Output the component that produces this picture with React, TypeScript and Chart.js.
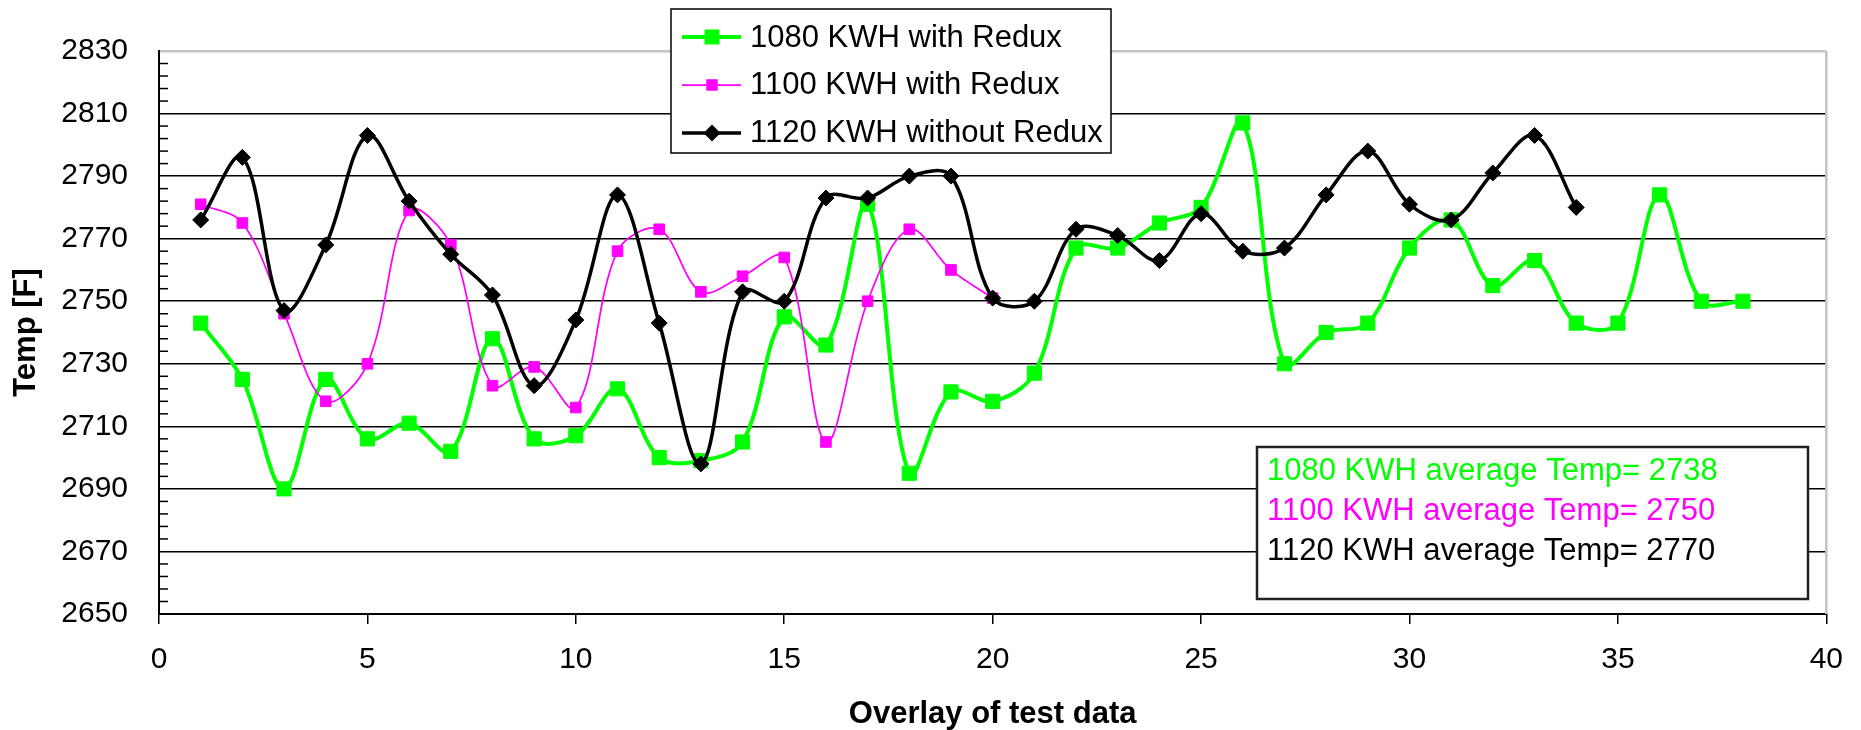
import React, { useEffect, useRef } from 'react';
import { Chart, registerables } from 'chart.js';

Chart.register(...registerables);

// ---- data ----
const seriesNames = ['1080 KWH with Redux', '1100 KWH with Redux', '1120 KWH without Redux'];
const seriesColors = ['#00ff00', '#ff00ff', '#000000'];

const temps1080 = [
  2743, 2725, 2690, 2725, 2706, 2711, 2702, 2738, 2706, 2707,
  2722, 2700, 2699, 2705, 2745, 2736, 2781, 2695, 2721, 2718,
  2727, 2767, 2767, 2775, 2780, 2807, 2730, 2740, 2743, 2767,
  2776, 2755, 2763, 2743, 2743, 2784, 2750, 2750,
];
const temps1100 = [
  2781, 2775, 2746, 2718, 2730, 2779, 2768, 2723, 2729, 2716,
  2766, 2773, 2753, 2758, 2764, 2705, 2750, 2773, 2760, 2751,
];
const temps1120 = [
  2776, 2796, 2747, 2768, 2803, 2782, 2765, 2752, 2723, 2744,
  2784, 2743, 2698, 2753, 2750, 2783, 2783, 2790, 2790, 2751,
  2750, 2773, 2771, 2763, 2778, 2766, 2767, 2784, 2798, 2781,
  2776, 2791, 2803, 2780,
];
const averageLabels = [
  '1080 KWH average Temp= 2738',
  '1100 KWH average Temp= 2750',
  '1120 KWH average Temp= 2770',
];
const xAxisMin = 0;
const xAxisMax = 40;
const xAxisStep = 5;
const yAxisMin = 2650;
const yAxisMax = 2830;
const yAxisStep = 20;
const yMinorStep = 4;
const xTitle = 'Overlay of test data';
const yTitle = 'Temp [F]';

const FONT = "'Liberation Sans', Arial, Helvetica, sans-serif";

const toPoints = (arr: number[]) => arr.map((v, i) => ({ x: i + 1, y: v }));

function drawMarker(ctx: CanvasRenderingContext2D, kind: string, x: number, y: number, size: number, color: string) {
  ctx.fillStyle = color;
  ctx.beginPath();
  if (kind === 'rect') {
    ctx.rect(x - size / 2, y - size / 2, size, size);
  } else {
    ctx.moveTo(x - size / 2, y);
    ctx.lineTo(x, y - size / 2);
    ctx.lineTo(x + size / 2, y);
    ctx.lineTo(x, y + size / 2);
    ctx.closePath();
  }
  ctx.fill();
}

const decorPlugin = {
  id: 'decor',
  beforeDatasetsDraw(chart: any) {
    const { ctx, chartArea, scales } = chart;
    const y = scales.y;
    ctx.save();
    ctx.strokeStyle = '#000';
    ctx.lineWidth = 1.5;
    for (let v = yAxisMin; v <= yAxisMax; v += yMinorStep) {
      if ((v - yAxisMin) % yAxisStep === 0) continue;
      const py = y.getPixelForValue(v);
      ctx.beginPath();
      ctx.moveTo(chartArea.left, py);
      ctx.lineTo(chartArea.left + 9, py);
      ctx.stroke();
    }
    ctx.strokeStyle = '#c4c4c4';
    ctx.lineWidth = 2.5;
    ctx.beginPath();
    ctx.moveTo(chartArea.right, chartArea.top);
    ctx.lineTo(chartArea.right, chartArea.bottom);
    ctx.stroke();
    ctx.restore();
  },
  afterDraw(chart: any) {
    const { ctx } = chart;
    ctx.save();
    ctx.fillStyle = '#fff';
    ctx.fillRect(671, 9, 440, 144);
    ctx.strokeStyle = '#000';
    ctx.lineWidth = 1.5;
    ctx.strokeRect(671, 9, 440, 144);
    const symY = [37, 85, 133];
    const txtY = [46.5, 94.3, 142.2];
    const lw = [4, 1.75, 3.5];
    const kinds = ['rect', 'rect', 'diamond'];
    const sizes = [15, 11.5, 17];
    ctx.font = `31px ${FONT}`;
    ctx.textBaseline = 'alphabetic';
    ctx.textAlign = 'left';
    for (let i = 0; i < 3; i++) {
      ctx.strokeStyle = seriesColors[i];
      ctx.lineWidth = lw[i];
      ctx.beginPath();
      ctx.moveTo(682, symY[i]);
      ctx.lineTo(741, symY[i]);
      ctx.stroke();
      drawMarker(ctx, kinds[i], 712, symY[i], sizes[i], seriesColors[i]);
      ctx.fillStyle = '#000';
      ctx.fillText(seriesNames[i], 750, txtY[i]);
    }
    ctx.fillStyle = '#fff';
    ctx.fillRect(1257, 447, 551, 152);
    ctx.strokeStyle = '#222';
    ctx.lineWidth = 2.5;
    ctx.strokeRect(1257, 447, 551, 152);
    const avgY = [480, 520, 560];
    for (let i = 0; i < 3; i++) {
      ctx.fillStyle = seriesColors[i];
      ctx.fillText(averageLabels[i], 1267, avgY[i]);
    }
    ctx.restore();
  },
};

export default function App() {
  const ref = useRef<HTMLCanvasElement>(null);
  useEffect(() => {
    const canvas = ref.current;
    if (!canvas) return;
    Chart.defaults.font.family = FONT;
    const chart = new Chart(canvas, {
      type: 'line',
      data: {
        datasets: [
          {
            label: seriesNames[0],
            data: toPoints(temps1080),
            borderColor: seriesColors[0],
            backgroundColor: seriesColors[0],
            borderWidth: 4,
            pointStyle: 'rect',
            pointRadius: 10,
            pointBorderWidth: 1,
            pointBackgroundColor: seriesColors[0],
            pointBorderColor: seriesColors[0],
            tension: 0.35,
            order: 3,
          },
          {
            label: seriesNames[1],
            data: toPoints(temps1100),
            borderColor: seriesColors[1],
            backgroundColor: seriesColors[1],
            borderWidth: 1.75,
            pointStyle: 'rect',
            pointRadius: 7.5,
            pointBorderWidth: 1,
            pointBackgroundColor: seriesColors[1],
            pointBorderColor: seriesColors[1],
            tension: 0.35,
            order: 2,
          },
          {
            label: seriesNames[2],
            data: toPoints(temps1120),
            borderColor: seriesColors[2],
            backgroundColor: seriesColors[2],
            borderWidth: 3.5,
            pointStyle: 'rectRot',
            pointRadius: 8,
            pointBorderWidth: 1,
            pointBackgroundColor: seriesColors[2],
            pointBorderColor: seriesColors[2],
            tension: 0.35,
            order: 1,
          },
        ],
      },
      options: {
        responsive: false,
        animation: false,
        devicePixelRatio: 1,
        layout: { padding: { left: 0, right: 21, top: 51, bottom: 0 } },
        plugins: { legend: { display: false }, tooltip: { enabled: false } },
        scales: {
          x: {
            type: 'linear',
            min: xAxisMin,
            max: xAxisMax,
            ticks: { stepSize: xAxisStep, font: { size: 30 }, color: '#000', padding: 18, maxRotation: 0, autoSkip: false, callback: (v: any) => String(v) },
            grid: { drawOnChartArea: false, drawTicks: true, tickLength: 10, color: '#000', lineWidth: 1.5 },
            border: { display: true, color: '#000', width: 2 },
            title: {
              display: true,
              text: xTitle,
              color: '#000',
              font: { size: 31, weight: 'bold', lineHeight: 1 },
              padding: { top: 0, bottom: 0 },
            },
            afterFit: (s: any) => { s.height = 116; },
          },
          y: {
            min: yAxisMin,
            max: yAxisMax,
            ticks: { stepSize: yAxisStep, font: { size: 30 }, color: '#000', padding: 31, callback: (v: any) => String(v) },
            grid: {
              drawTicks: false,
              color: (c: any) => (c.tick && c.tick.value === yAxisMax ? '#c4c4c4' : c.tick && c.tick.value === yAxisMin ? 'rgba(0,0,0,0)' : '#000'),
              lineWidth: (c: any) => (c.tick && c.tick.value === yAxisMax ? 2.5 : 1.5),
            },
            border: { display: true, color: '#000', width: 2 },
            title: {
              display: true,
              text: yTitle,
              color: '#000',
              font: { size: 31, weight: 'bold', lineHeight: 1 },
              padding: { top: 11, bottom: 0 },
            },
            afterFit: (s: any) => { s.width = 159; },
          },
        },
      } as any,
      plugins: [decorPlugin],
    });
    return () => chart.destroy();
  }, []);
  return (
    <div style={{ position: 'fixed', left: 0, top: 0, width: 1861, height: 730, background: '#fff' }}>
      <canvas ref={ref} width={1861} height={730} style={{ display: 'block', width: 1861, height: 730 }} />
    </div>
  );
}
